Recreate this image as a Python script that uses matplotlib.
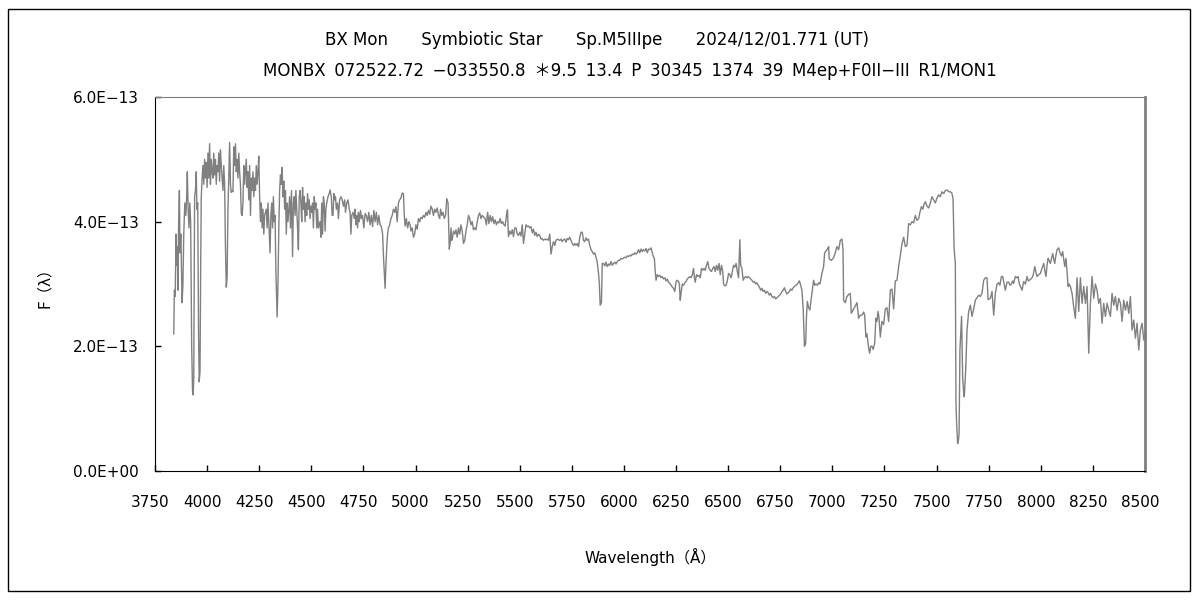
import matplotlib
matplotlib.use("Agg")
import matplotlib.pyplot as plt
import matplotlib.transforms as mtransforms
from matplotlib.patches import Rectangle
from matplotlib.ticker import FuncFormatter

plt.rcParams['font.family'] = ['DejaVu Sans', 'Noto Sans CJK JP']

# spectrum, flux in units of 1e-13
wl = [3840, 3843, 3847, 3851, 3854, 3857, 3860, 3863, 3867, 3870, 3874, 3877, 3880, 3884,
      3888, 3893, 3898, 3902, 3905, 3909, 3913, 3917, 3921, 3926, 3930, 3933, 3936, 3940,
      3944, 3948, 3951, 3955, 3959, 3962, 3966, 3969, 3972, 3976, 3980, 3984, 3988, 3992,
      3996, 4000, 4004, 4008, 4012, 4016, 4020, 4024, 4028, 4032, 4036, 4040, 4044, 4048,
      4052, 4056, 4060, 4064, 4068, 4072, 4076, 4080, 4084, 4088, 4092, 4096, 4100, 4104,
      4108, 4112, 4116, 4120, 4124, 4128, 4132, 4136, 4140, 4144, 4148, 4152, 4156, 4160,
      4164, 4168, 4172, 4176, 4180, 4184, 4188, 4192, 4196, 4200, 4204, 4208, 4212, 4216,
      4220, 4224, 4228, 4232, 4236, 4240, 4244, 4248, 4252, 4256, 4260, 4264, 4268, 4272,
      4276, 4280, 4284, 4288, 4292, 4296, 4302, 4306, 4310, 4314, 4318, 4322, 4326, 4330,
      4336, 4340, 4344, 4348, 4352, 4356, 4360, 4364, 4368, 4372, 4376, 4380, 4384, 4388,
      4392, 4396, 4400, 4405, 4410, 4414, 4418, 4422, 4426, 4430, 4434, 4438, 4442, 4446,
      4450, 4454, 4458, 4462, 4466, 4470, 4474, 4478, 4482, 4486, 4490, 4494, 4498, 4502,
      4506, 4510, 4514, 4518, 4522, 4526, 4530, 4534,
      4542, 4546, 4550, 4554, 4558, 4562, 4566, 4570, 4574, 4580, 4586, 4590, 4596, 4600,
      4604, 4608, 4612, 4616, 4620, 4626, 4630, 4636, 4642, 4648, 4654, 4660, 4664, 4670,
      4676, 4682, 4686, 4690, 4694, 4700, 4706, 4710, 4714, 4718, 4722, 4726, 4730, 4736,
      4740, 4746, 4752, 4758, 4764, 4770, 4776, 4782, 4788, 4794, 4800, 4806, 4812, 4818,
      4824, 4830, 4836, 4842, 4846, 4850, 4854, 4858, 4862, 4866, 4870, 4876, 4882, 4888,
      4894, 4900, 4906, 4912, 4918, 4924, 4930, 4936, 4942, 4946, 4950, 4956, 4962, 4968,
      4974, 4978, 4984, 4990, 4996, 5002, 5008, 5014, 5020, 5026, 5032, 5038, 5044, 5050,
      5056, 5062, 5068, 5074, 5080, 5086, 5092, 5098, 5104, 5110, 5116, 5120, 5126, 5132,
      5138, 5144, 5150, 5156, 5162, 5166, 5170, 5174, 5178, 5182, 5188, 5194, 5200, 5206,
      5212, 5218, 5224, 5230, 5236, 5242, 5248, 5254, 5260, 5266, 5272, 5278, 5284, 5290,
      5296, 5302, 5308, 5314, 5320,
      5334, 5340, 5346, 5352, 5358, 5364, 5370, 5376, 5382, 5388, 5394, 5400, 5406, 5412,
      5418, 5424, 5430, 5436, 5441, 5446, 5452, 5458, 5464, 5470, 5476, 5482, 5488, 5494,
      5500, 5506, 5512, 5518, 5524, 5530, 5536, 5542, 5548, 5554, 5560, 5566, 5572, 5578,
      5584, 5590, 5596, 5602, 5608, 5614, 5620, 5626, 5632, 5638, 5644, 5650, 5656, 5662,
      5668, 5674, 5680, 5686, 5692, 5698, 5704, 5710, 5716, 5722, 5728, 5734, 5740, 5746,
      5752, 5758, 5764, 5770, 5776, 5782, 5788, 5794, 5800, 5806, 5812, 5818, 5824, 5830,
      5836, 5842, 5848, 5854, 5860, 5866, 5872, 5878, 5882, 5886, 5892, 5896, 5902, 5908,
      5914, 5920, 5926, 5932, 5938, 5944, 5950, 5956, 5962, 5968, 5974, 5980, 5986, 5992,
      5998, 6004, 6010, 6016, 6022, 6028, 6034, 6040, 6046, 6052, 6058, 6064, 6070, 6076,
      6082, 6088, 6094, 6100, 6106, 6112, 6118, 6124, 6130, 6136, 6140,
      6146, 6150, 6154, 6160, 6166, 6172, 6178, 6184, 6190, 6196, 6202, 6208, 6214, 6220,
      6226, 6232, 6238, 6244, 6250, 6256, 6262, 6266, 6270, 6274, 6280, 6286, 6292, 6298,
      6304, 6310, 6316, 6322, 6328, 6334, 6338, 6342, 6348, 6354, 6360, 6366, 6372, 6378,
      6384, 6390, 6396, 6402, 6408, 6414, 6420, 6426, 6432, 6438, 6444, 6450, 6456, 6462,
      6468, 6474, 6478, 6484, 6490, 6496, 6502, 6508, 6514, 6520, 6526, 6532, 6538, 6544,
      6550, 6556, 6560, 6566, 6572, 6578, 6584, 6590, 6596, 6602, 6608, 6614, 6620, 6626,
      6632, 6638, 6644, 6650, 6656, 6662, 6668, 6674, 6680, 6686, 6692, 6698, 6704, 6710,
      6716, 6722, 6728, 6734, 6740, 6746, 6752, 6758, 6764, 6770, 6776, 6782, 6788, 6794,
      6800, 6806, 6812, 6818, 6824, 6830, 6836, 6842, 6848, 6854, 6860, 6866, 6872, 6876,
      6880, 6886, 6892, 6898, 6904, 6910, 6916, 6922, 6928, 6934, 6940,
      6950, 6958, 6963, 6974, 6982, 6985, 6995, 7006, 7014, 7022, 7030, 7038, 7046, 7051,
      7054, 7062, 7070, 7078, 7086, 7091, 7102, 7110, 7118, 7126, 7134, 7142, 7150, 7155,
      7161, 7166, 7171, 7175, 7179, 7184, 7190, 7196, 7203, 7209, 7214, 7219, 7224, 7230,
      7238, 7246, 7254, 7262, 7270, 7278, 7286, 7294, 7302, 7310, 7318, 7326, 7334, 7342,
      7350, 7358, 7366, 7374, 7382, 7390, 7398, 7406, 7414, 7420, 7427, 7434, 7440, 7446,
      7454, 7462, 7470, 7478, 7486, 7494, 7502, 7510, 7518, 7526, 7534, 7542, 7550, 7558,
      7566, 7573, 7579, 7584, 7590, 7593, 7597, 7601, 7605, 7608, 7612, 7617, 7620, 7625,
      7629, 7633, 7640, 7646, 7654, 7662, 7670, 7678, 7686, 7694, 7702, 7710, 7718,
      7726, 7734, 7742, 7747, 7758, 7766, 7774, 7782, 7790, 7798, 7804, 7811, 7817, 7824,
      7830, 7838, 7846, 7852, 7859, 7865, 7870, 7878, 7884, 7891, 7897, 7904, 7910, 7918,
      7926, 7934, 7940, 7945, 7952, 7958, 7964, 7971, 7976, 7982, 7990, 7998, 8006, 8014,
      8020, 8025, 8030, 8035, 8040, 8046, 8052, 8057, 8062, 8067, 8072, 8078, 8086, 8092,
      8099, 8105, 8110, 8115, 8121, 8126, 8131, 8136, 8142, 8150, 8158, 8166, 8174, 8182,
      8190, 8198, 8206, 8214, 8222, 8230, 8238, 8246, 8254, 8262, 8270, 8278, 8286, 8294,
      8302, 8310, 8318, 8326, 8334, 8342, 8350, 8358, 8366, 8374, 8382, 8390, 8398, 8406,
      8414, 8422, 8430, 8438, 8446, 8454, 8462, 8470, 8478, 8486, 8494, 8500]

flux = [2.2, 2.9, 2.8, 3.8, 3.3, 3.6, 2.9, 3.9, 4.5, 3.5, 3.8, 3.2, 2.7, 3.0,
        3.8, 4.3, 4.1, 4.4, 4.8, 4.2, 3.9, 4.3, 4.0, 2.0, 1.3, 1.22, 1.5, 4.4,
        4.5, 4.8, 4.2, 4.3, 2.2, 1.43, 1.6, 3.2, 4.4, 4.7, 4.9, 4.6, 5.0, 4.7,
        4.95, 4.55, 5.1, 4.7, 5.25, 4.6, 5.0, 4.8, 4.7, 5.1, 4.75, 5.0, 4.6, 4.9,
        4.8, 5.1, 4.65, 5.15, 4.9, 4.7, 4.5, 4.9, 4.6, 3.6, 2.95, 3.1, 4.2, 4.7,
        5.27, 4.6, 4.47, 4.5, 4.48, 5.2, 4.9, 5.25, 4.8, 5.0, 4.7, 5.1, 4.8, 4.6,
        4.13, 4.1, 4.3, 4.9, 4.6, 4.8, 5.0, 4.55, 4.8, 4.35, 4.9, 4.1, 4.7, 4.5,
        4.8, 4.4, 4.7, 4.5, 4.9, 4.6, 4.8, 5.05, 4.4, 4.0, 4.3, 3.9, 4.2, 3.8,
        4.1, 4.15, 4.2, 3.9, 4.3, 4.0, 3.5, 4.1, 4.3, 3.9, 4.4, 4.0, 4.1, 3.2,
        2.47, 3.0, 3.9, 4.5, 4.75, 4.6, 4.87, 4.4, 4.65, 4.2, 4.5, 3.8, 4.3, 4.0,
        4.2, 4.4, 3.9, 4.5, 3.44, 4.3, 4.4, 4.1, 4.5, 4.2, 3.9, 3.55, 4.4, 4.5,
        4.3, 4.0, 4.55, 4.2, 4.4, 4.0, 4.3, 4.1, 4.45, 4.2, 4.35, 4.05, 4.25, 4.15,
        4.3, 3.9, 4.4, 4.2, 4.3, 3.9, 4.2, 3.9,
        4.0, 3.75, 4.3, 3.8, 4.4, 4.3, 3.85, 4.2, 4.3, 4.4, 4.45, 4.51, 4.4, 4.1,
        4.1, 4.45, 4.35, 4.4, 4.2, 4.3, 4.05, 4.35, 4.4, 4.35, 4.25, 4.35, 4.15, 4.3,
        4.35, 4.2, 4.15, 3.8, 4.1, 4.15, 4.05, 4.2, 3.95, 4.1, 3.9, 4.15, 4.0, 4.18,
        4.05, 4.1, 3.9, 4.13, 4.1, 4.0, 4.15, 3.95, 4.1, 3.92, 4.18, 4.0, 4.15, 3.95,
        4.1, 3.95, 3.92, 3.8, 3.46, 3.2, 2.93, 3.3, 3.6, 3.8, 3.9, 3.95, 4.05, 4.1,
        4.2, 4.15, 4.24, 4.0, 4.3, 4.35, 4.38, 4.46, 4.45, 4.1, 3.93, 4.05, 3.9, 4.0,
        3.95, 3.85, 3.9, 3.75, 3.8, 3.95, 3.88, 4.05, 4.0, 4.07, 4.05, 4.1, 4.07, 4.15,
        4.1, 4.18, 4.12, 4.25, 4.2, 4.1, 4.2, 4.15, 4.22, 4.1, 4.05, 4.2, 4.1, 4.15,
        4.05, 4.1, 4.37, 4.3, 3.56, 3.65, 3.9, 3.7, 3.75, 3.85, 3.8, 3.87, 3.75, 3.9,
        3.8, 3.95, 3.85, 3.65, 3.7, 3.85, 3.95, 4.1, 4.05, 3.95, 4.0, 3.87, 3.9, 3.87,
        4.0, 4.1, 4.14, 4.05, 4.1,
        4.05, 3.95, 4.15, 3.97, 4.1, 4.0, 4.08, 3.97, 4.03, 3.95, 4.0, 3.98, 4.05, 3.97,
        4.0, 3.95, 3.93, 4.1, 4.19, 3.76, 3.85, 3.8, 3.87, 3.76, 3.9, 3.9, 3.8, 3.78,
        3.83, 3.77, 3.95, 3.65, 3.8, 3.95, 3.92, 3.93, 3.9, 3.92, 3.82, 3.88, 3.78, 3.83,
        3.76, 3.8, 3.78, 3.72, 3.73, 3.7, 3.72, 3.71, 3.72, 3.7, 3.8, 3.48, 3.6, 3.68,
        3.62, 3.7, 3.72, 3.71, 3.7, 3.72, 3.68, 3.71, 3.72, 3.67, 3.73, 3.71, 3.75, 3.7,
        3.65, 3.62, 3.65, 3.62, 3.65, 3.6, 3.75, 3.83, 3.83, 3.7, 3.68, 3.74, 3.7, 3.72,
        3.62, 3.55, 3.52, 3.48, 3.5, 3.43, 3.35, 3.17, 3.0, 2.66, 2.7, 3.33, 3.33, 3.29,
        3.35, 3.28, 3.32, 3.3, 3.36, 3.3, 3.33, 3.35, 3.32, 3.36, 3.38, 3.38, 3.41, 3.4,
        3.42, 3.43, 3.42, 3.45, 3.44, 3.46, 3.45, 3.48, 3.47, 3.5, 3.48, 3.5, 3.55, 3.5,
        3.56, 3.52, 3.55, 3.53, 3.57, 3.5, 3.56, 3.55, 3.58, 3.5, 3.45,
        3.41, 3.2, 3.06, 3.15, 3.12, 3.14, 3.1, 3.12, 3.08, 3.1, 3.05, 3.08, 3.03, 3.01,
        2.98, 2.95, 2.93, 2.88, 3.04, 3.06, 3.04, 3.0, 2.74, 2.85, 3.0, 2.98, 3.02, 3.04,
        3.08, 3.1, 3.12, 3.1, 3.15, 3.25, 3.1, 3.03, 3.15, 3.12, 3.14, 3.1, 3.25, 3.22,
        3.25, 3.22, 3.3, 3.36, 3.25, 3.22, 3.2, 3.25, 3.28, 3.2, 3.3, 3.22, 3.33, 3.15,
        3.3, 3.2, 3.0, 2.97, 2.98, 3.05, 3.17, 3.15, 3.1, 3.2, 3.3, 3.27, 3.33, 3.2,
        3.1, 3.71, 3.3, 3.25, 3.06, 3.1, 3.12, 3.1, 3.12, 3.1, 3.08, 3.06, 3.03, 3.04,
        3.0, 3.02, 2.98, 2.95, 2.9, 2.93, 2.88, 2.9, 2.85, 2.88, 2.86, 2.82, 2.85, 2.8,
        2.78, 2.8, 2.76, 2.78, 2.8, 2.82, 2.84, 2.88, 2.9, 2.94, 2.88, 2.84, 2.86, 2.88,
        2.92, 2.9, 2.94, 2.96, 2.98, 2.99, 3.02, 3.05, 2.98, 2.9, 2.6, 2.0, 2.05, 2.5,
        2.72, 2.62, 2.58, 2.75, 2.9, 3.06, 2.98, 3.0, 2.98, 3.02, 3.0,
        3.17, 3.28, 3.5, 3.55, 3.6, 3.4, 3.38, 3.42, 3.5, 3.6, 3.55, 3.7, 3.72, 3.55,
        2.74, 2.7, 2.8, 2.83, 2.85, 2.53, 2.6, 2.65, 2.7, 2.45, 2.5, 2.5, 2.55, 2.5,
        2.15, 2.2, 2.05, 1.95, 1.89, 2.0, 2.0, 1.95, 2.05, 2.45, 2.4, 2.56, 2.45, 2.15,
        2.4, 2.35, 2.6, 2.62, 2.4, 2.9, 2.92, 2.6, 3.05, 3.06, 3.28, 3.45, 3.65, 3.75,
        3.6, 3.62, 3.97, 3.95, 4.0, 3.98, 4.1, 4.02, 4.05, 4.15, 4.24, 4.2, 4.28, 4.32,
        4.25, 4.22, 4.3, 4.4, 4.35, 4.3, 4.38, 4.43, 4.4, 4.48, 4.45, 4.5, 4.51, 4.48,
        4.48, 4.46, 4.37, 3.58, 3.33, 1.09, 0.7, 0.44, 0.5, 0.6, 1.94, 2.26, 2.48, 1.51,
        1.3, 1.19, 1.65, 2.26, 2.56, 2.66, 2.48, 2.6, 2.74, 2.78, 2.82, 2.8, 2.85,
        3.06, 3.1, 3.1, 2.75, 2.77, 2.88, 2.5, 2.85, 3.0, 3.02, 2.98, 3.12, 3.12, 3.0,
        2.9, 3.03, 3.03, 2.98, 3.0, 3.05, 3.01, 3.12, 3.1, 3.12, 3.0, 2.95, 2.9, 3.04,
        3.0, 3.12, 3.05, 3.06, 3.08, 3.1, 3.15, 3.28, 3.2, 3.12, 3.15, 3.17, 3.25, 3.33,
        3.2, 3.12, 3.3, 3.41, 3.38, 3.33, 3.42, 3.49, 3.4, 3.33, 3.45, 3.55, 3.58, 3.5,
        3.45, 3.52, 3.4, 3.28, 3.41, 3.2, 2.96, 3.0, 2.96, 2.85, 2.63, 2.45, 3.1, 2.56,
        3.1, 2.69, 2.96, 2.69, 2.96, 1.89, 2.69, 3.12, 2.77, 3.0, 2.9, 2.69, 2.77, 2.37,
        2.69, 2.48, 2.69, 2.58, 2.48, 2.85, 2.66, 2.8, 2.58, 2.77, 2.69, 2.4, 2.74, 2.58,
        2.72, 2.53, 2.8, 2.26, 2.42, 2.13, 2.37, 1.94, 2.26, 2.37, 2.1, 2.2]

xticks = list(range(3750, 8501, 250))
yticks = [0, 2e-13, 4e-13, 6e-13]

title1 = "BX Mon\u3000\u3000Symbiotic Star\u3000\u3000Sp.M5IIIpe\u3000\u30002024/12/01.771 (UT)"
title2_parts = ["MONBX", "072522.72", "\u2212033550.8", "\uff0a9.5", "13.4", "P", "30345",
                "1374", "39", "M4ep+F0II\u2212III", "R1/MON1"]


def sci(v, pos):
    return ("%.1E" % v).replace("-", "\u2212")


fig = plt.figure(figsize=(12, 6), dpi=100)
ax = fig.add_axes([155/1200, 129/600, 990/1200, 374/600])

ax.plot(wl, [f * 1e-13 for f in flux], color='#808080', lw=1)

ax.set_xlim(3750, 8500)
ax.set_ylim(0, 6e-13)
ax.set_xticks(xticks)
ax.set_yticks(yticks)
ax.yaxis.set_major_formatter(FuncFormatter(sci))
ax.tick_params(axis='both', direction='in', length=4, width=1, labelsize=11)
ax.tick_params(axis='x', pad=17)
ax.tick_params(axis='y', pad=11.5)

# tick labels in the reference sit a few pixels left of their ticks
shift = mtransforms.ScaledTranslation(-5/100, 0, fig.dpi_scale_trans)
for lab in ax.get_xticklabels():
    lab.set_transform(lab.get_transform() + shift)

for s in ['left', 'bottom']:
    ax.spines[s].set_color('black')
for s in ['top', 'right']:
    ax.spines[s].set_color('#808080')
ax.spines['right'].set_linewidth(2)

ax.set_xlabel("Wavelength\uff08\u00c5\uff09", fontsize=11, va='center')
ax.set_ylabel("F\uff08\u03bb\uff09", fontsize=11, va='center')
ax.xaxis.set_label_coords(0.5, (471 - 557) / 374)
ax.yaxis.set_label_coords((45 - 155) / 990, 0.5)

fig.text(597/1200, 1 - 40/600, title1, ha='center', va='center', fontsize=12)
fig.text(630/1200, 1 - 71/600, " \u2009".join(title2_parts), ha='center', va='center',
         fontsize=12)

fig.patches.append(Rectangle((8/1200, 9/600), 1182/1200, 582/600, transform=fig.transFigure,
                             fill=False, edgecolor='black', lw=1))

plt.savefig('out.png', dpi=100)
